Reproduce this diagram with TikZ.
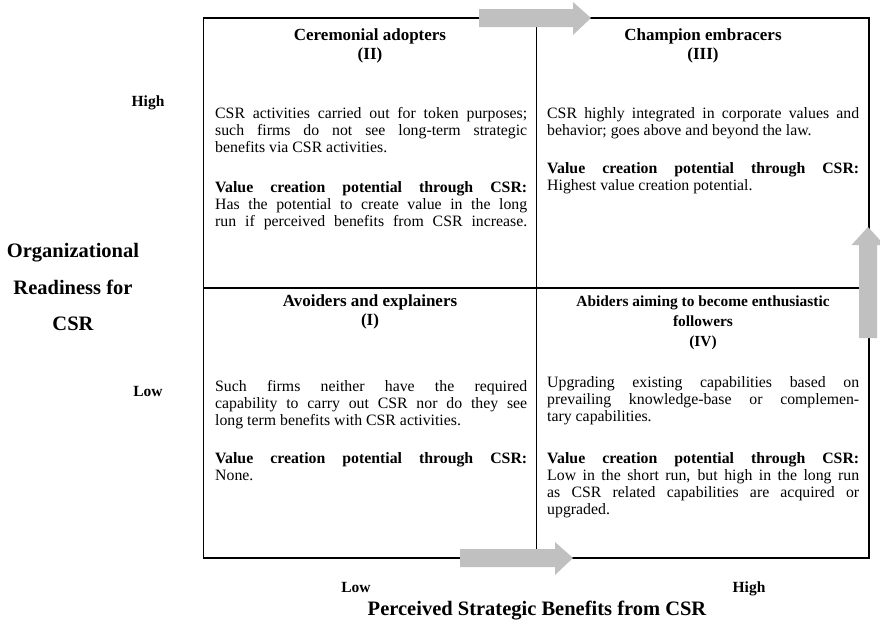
\documentclass[tikz,border=0pt]{standalone}
\usepackage{fontspec}
\setmainfont{Liberation Serif}
\definecolor{arrowgrey}{RGB}{192,192,192}
\newcommand\jl[1]{{\spaceskip=0pt\xspaceskip=0pt\makebox[312pt][s]{#1}}}
\begin{document}
\begin{tikzpicture}[x=1pt,y=-1pt,
  grid/.style={line width=1.1pt, draw=black},
  body/.style={anchor=base west, inner sep=0pt, text width=312pt, align=left,
    font=\fontsize{15.8}{17.2}\selectfont,
    execute at begin node={\spaceskip=0pt\xspaceskip=0pt}},
  hdr/.style={anchor=base, inner sep=0pt, font=\bfseries\fontsize{17}{19}\selectfont},
  hdrsmall/.style={anchor=base, inner sep=0pt, font=\bfseries\fontsize{15.4}{18}\selectfont},
  axlab/.style={anchor=base, inner sep=0pt, font=\bfseries\fontsize{15.5}{17}\selectfont},
  bigtitle/.style={anchor=base, inner sep=0pt, font=\bfseries\fontsize{20.5}{22}\selectfont},
  blockarrow/.style={fill=arrowgrey, draw=none}]
\useasboundingbox (0,0) rectangle (880,629);
% grid
\coordinate (tl) at (203.5,18);
\coordinate (br) at (869,558);
\draw[grid] (tl) rectangle (br);
\coordinate (vt) at (536.5,18);
\coordinate (vb) at (536.5,558);
\coordinate (hl) at (203.5,288);
\coordinate (hr) at (869,288);
\draw[grid] (vt) -- (vb);
\draw[grid] (hl) -- (hr);
% block arrows
\fill[blockarrow] (479,9) -- (573,9) -- (573,2) -- (591,18) -- (573,35) -- (573,27) -- (479,27) -- cycle;
\fill[blockarrow] (460,549) -- (555,549) -- (555,542) -- (573,558) -- (555,575) -- (555,567) -- (460,567) -- cycle;
\fill[blockarrow] (859,338) -- (859,245) -- (851.5,245) -- (868,227) -- (884.5,245) -- (877,245) -- (877,338) -- cycle;
% headers
\node[hdr] (h2a) at (370,40) {Ceremonial adopters};
\node[hdr] (h2b) at (370,59) {(II)};
\node[hdr] (h3a) at (703,40) {Champion embracers};
\node[hdr] (h3b) at (703,59) {(III)};
\node[hdr] (h1a) at (370,306) {Avoiders and explainers};
\node[hdr] (h1b) at (370,325) {(I)};
\node[hdrsmall] (h4a) at (703,306) {Abiders aiming to become enthusiastic};
\node[hdrsmall] (h4b) at (703,326) {followers};
\node[hdrsmall] (h4c) at (703,346) {(IV)};
% cell II
\node[body] (p2a) at (215,118) {\jl{CSR activities carried out for token purposes;}\\
\jl{such firms do not see long-term strategic}\\
benefits via CSR activities.};
\node[body] (p2b) at (215,192) {\jl{\textbf{Value creation potential through CSR:}}\\
\jl{Has the potential to create value in the long}\\
\jl{run if perceived benefits from CSR increase.}};
% cell III
\node[body] (p3a) at (547,118) {\jl{CSR highly integrated in corporate values and}\\
behavior; goes above and beyond the law.};
\node[body] (p3b) at (547,173) {\jl{\textbf{Value creation potential through CSR:}}\\
Highest value creation potential.};
% cell I
\node[body] (p1a) at (215,391) {\jl{Such firms neither have the required}\\
\jl{capability to carry out CSR nor do they see}\\
long term benefits with CSR activities.};
\node[body] (p1b) at (215,463) {\jl{\textbf{Value creation potential through CSR:}}\\
None.};
% cell IV
\node[body] (p4a) at (547,387) {\jl{Upgrading existing capabilities based on}\\
\jl{prevailing knowledge-base or complemen-}\\
tary capabilities.};
\node[body] (p4b) at (547,463) {\jl{\textbf{Value creation potential through CSR:}}\\
\jl{Low in the short run, but high in the long run}\\
\jl{as CSR related capabilities are acquired or}\\
upgraded.};
% axis labels
\node[axlab] (yhigh) at (148,106) {High};
\node[axlab] (ylow) at (148,396) {Low};
\node[axlab] (xlow) at (356,592) {Low};
\node[axlab] (xhigh) at (749,592) {High};
\node[bigtitle] (yt1) at (73,257) {Organizational};
\node[bigtitle] (yt2) at (73,294) {Readiness for};
\node[bigtitle] (yt3) at (73,330) {CSR};
\node[bigtitle] (xt) at (537,615) {Perceived Strategic Benefits from CSR};
\end{tikzpicture}
\end{document}
